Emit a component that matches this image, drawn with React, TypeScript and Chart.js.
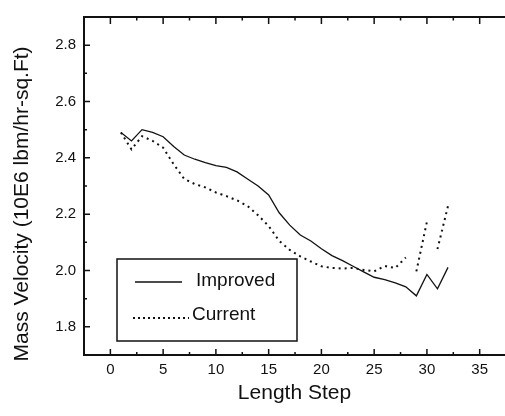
import React, { useEffect, useRef } from "react";
import { Chart, registerables } from "chart.js";

Chart.register(...registerables);

const steps = [1, 2, 3, 4, 5, 6, 7, 8, 9, 10, 11, 12, 13, 14, 15, 16, 17, 18, 19, 20, 21, 22, 23, 24, 25, 26, 27, 28, 29, 30, 31, 32];
const improved = [2.49, 2.46, 2.5, 2.49, 2.475, 2.44, 2.41, 2.395, 2.383, 2.372, 2.366, 2.35, 2.325, 2.3, 2.268, 2.205, 2.161, 2.126, 2.105, 2.077, 2.053, 2.035, 2.015, 1.995, 1.976, 1.968, 1.956, 1.942, 1.91, 1.986, 1.935, 2.011];
const current = [2.49, 2.43, 2.477, 2.46, 2.436, 2.377, 2.325, 2.307, 2.295, 2.277, 2.264, 2.249, 2.229, 2.196, 2.158, 2.105, 2.073, 2.05, 2.032, 2.015, 2.009, 2.007, 2.009, 2.002, 1.997, 2.016, 2.009, 2.046, 1.997, 2.173, 2.076, 2.229];
// steps from which the dotted "Current" segment is not visible in the original
const currentHiddenFrom = [28, 30];

const xMajorTicks = [0, 5, 10, 15, 20, 25, 30, 35];
const xMinorTicks = [2.5, 7.5, 12.5, 17.5, 22.5, 27.5, 32.5];
const yMajorTicks = [1.8, 2.0, 2.2, 2.4, 2.6, 2.8];
const yMinorTicks = [1.9, 2.1, 2.3, 2.5, 2.7];
const xTitle = "Length Step";
const yTitle = "Mass Velocity (10E6 lbm/hr-sq.Ft)";
const legendLabels = ["Improved", "Current"];

const FONT = "'Liberation Sans', Arial, Helvetica, sans-serif";
const INK = "#111111";

const framePlugin = {
  id: "frameTicks",
  afterDraw(chart: any) {
    const { ctx, chartArea } = chart;
    const xs = chart.scales.x;
    const ys = chart.scales.y;
    const { left, right, top, bottom } = chartArea;
    ctx.save();
    ctx.strokeStyle = INK;
    ctx.lineCap = "butt";
    ctx.lineWidth = 2;
    ctx.beginPath();
    ctx.moveTo(right, top);
    ctx.lineTo(left, top);
    ctx.lineTo(left, bottom);
    ctx.lineTo(right, bottom);
    ctx.stroke();
    ctx.lineWidth = 1.5;
    ctx.beginPath();
    for (const v of xMajorTicks) {
      const px = xs.getPixelForValue(v);
      ctx.moveTo(px, bottom);
      ctx.lineTo(px, bottom - 6);
      ctx.moveTo(px, top);
      ctx.lineTo(px, top + 7);
    }
    for (const v of xMinorTicks) {
      const px = xs.getPixelForValue(v);
      ctx.moveTo(px, bottom);
      ctx.lineTo(px, bottom - 3);
      ctx.moveTo(px, top);
      ctx.lineTo(px, top + 3.5);
    }
    for (const v of yMajorTicks) {
      const py = ys.getPixelForValue(v);
      ctx.moveTo(left, py);
      ctx.lineTo(left + 6, py);
    }
    for (const v of yMinorTicks) {
      const py = ys.getPixelForValue(v);
      ctx.moveTo(left, py);
      ctx.lineTo(left + 3, py);
    }
    ctx.stroke();

    // y title
    ctx.fillStyle = INK;
    ctx.font = `21px ${FONT}`;
    ctx.textAlign = "center";
    ctx.textBaseline = "middle";
    ctx.translate(22, 204);
    ctx.rotate(-Math.PI / 2);
    ctx.fillText(yTitle, 0, 0);
    ctx.restore();

    // legend box
    ctx.save();
    const bx = left + 33;
    const by = top + 242;
    const bw = 180;
    const bh = 82;
    ctx.fillStyle = "#ffffff";
    ctx.fillRect(bx, by, bw, bh);
    ctx.strokeStyle = INK;
    ctx.lineWidth = 1.5;
    ctx.strokeRect(bx, by, bw, bh);
    ctx.font = `19px ${FONT}`;
    ctx.fillStyle = INK;
    ctx.textAlign = "left";
    ctx.textBaseline = "middle";
    ctx.lineWidth = 1.3;
    ctx.beginPath();
    ctx.moveTo(bx + 18, by + 23);
    ctx.lineTo(bx + 65, by + 23);
    ctx.stroke();
    ctx.fillText(legendLabels[0], bx + 79, by + 22);
    ctx.lineWidth = 2;
    ctx.setLineDash([2, 3]);
    ctx.beginPath();
    ctx.moveTo(bx + 16, by + 59);
    ctx.lineTo(bx + 72, by + 59);
    ctx.stroke();
    ctx.setLineDash([]);
    ctx.fillText(legendLabels[1], bx + 75, by + 56);
    ctx.restore();
  },
};

export default function App() {
  const ref = useRef<HTMLCanvasElement | null>(null);
  useEffect(() => {
    if (!ref.current) return;
    const chart = new Chart(ref.current, {
      type: "line",
      data: {
        datasets: [
          {
            label: legendLabels[0],
            data: steps.map((s, i) => ({ x: s, y: improved[i] })),
            borderColor: INK,
            borderWidth: 1.3,
            pointRadius: 0,
            tension: 0,
            fill: false,
          },
          {
            label: legendLabels[1],
            data: steps.map((s, i) => ({ x: s, y: current[i] })),
            borderColor: INK,
            borderWidth: 2,
            borderDash: [2, 4],
            pointRadius: 0,
            tension: 0,
            fill: false,
            segment: {
              borderColor: (c: any) =>
                currentHiddenFrom.includes(steps[c.p0DataIndex]) ? "rgba(0,0,0,0)" : INK,
            },
          },
        ],
      },
      options: {
        responsive: false,
        animation: false,
        events: [],
        layout: { padding: { top: 13, right: 0, left: 0, bottom: 0 } },
        plugins: { legend: { display: false }, tooltip: { enabled: false } },
        scales: {
          x: {
            type: "linear",
            min: -2.5,
            max: 37.4,
            grid: { display: false, drawTicks: false, tickLength: 0 },
            border: { display: false },
            afterBuildTicks: (s: any) => {
              s.ticks = xMajorTicks.map((v) => ({ value: v }));
            },
            afterFit: (s: any) => {
              s.height = 61;
            },
            ticks: {
              color: INK,
              font: { size: 15, family: FONT },
              padding: 6,
              maxRotation: 0,
              autoSkip: false,
              callback: (v: any) => String(v),
            },
            title: {
              display: true,
              text: xTitle,
              color: INK,
              font: { size: 21, family: FONT },
              padding: { top: 0, bottom: 10 },
            },
          },
          y: {
            type: "linear",
            min: 1.7,
            max: 2.9,
            grid: { display: false, drawTicks: false, tickLength: 0 },
            border: { display: false },
            afterBuildTicks: (s: any) => {
              s.ticks = yMajorTicks.map((v) => ({ value: v }));
            },
            afterFit: (s: any) => {
              s.width = 84;
            },
            ticks: {
              color: INK,
              font: { size: 15, family: FONT },
              padding: 8,
              autoSkip: false,
              callback: (v: any) => Number(v).toFixed(1),
            },
          },
        },
      },
      plugins: [framePlugin],
    });
    return () => chart.destroy();
  }, []);
  return (
    <div style={{ position: "fixed", left: 0, top: 0, width: 505, height: 416, background: "#fff" }}>
      <canvas ref={ref} width={505} height={416} style={{ display: "block" }} />
    </div>
  );
}
